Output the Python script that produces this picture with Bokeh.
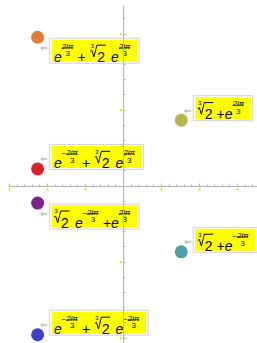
import re
import numpy as np
from bokeh.plotting import figure
from bokeh.models import FixedTicker, Range1d, ColumnDataSource
from bokeh.core.properties import value, field
from bokeh.embed import file_html
from bokeh.resources import INLINE

# ---------------- data ----------------
labels = [
    "e^(2iπ/3) + ∛2 e^(2iπ/3)",
    "∛2 + e^(2iπ/3)",
    "e^(-2iπ/3) + ∛2 e^(2iπ/3)",
    "∛2 e^(-2iπ/3) + e^(2iπ/3)",
    "∛2 + e^(-2iπ/3)",
    "e^(-2iπ/3) + ∛2 e^(-2iπ/3)",
]
re_part = [-1.13, 0.76, -1.13, -1.13, 0.76, -1.13]
im_part = [1.957, 0.866, 0.225, -0.225, -0.866, -1.957]
colors = ["#E07C3C", "#B9B44B", "#DB2427", "#7D238B", "#50A0AA", "#3C41C8"]
label_side = ["below", "above", "above", "below", "above", "above"]
x_major = [-1.5, -1.0, -0.5, 0.5, 1.0, 1.5]
y_major = [-2.0, -1.0, 1.0, 2.0]
x_minor = [round(v, 2) for v in np.arange(-1.5, 1.75, 0.1)]
y_minor = [round(v, 2) for v in np.arange(-2.0, 2.4, 0.2)]

# ---------------- figure ----------------
ML, MT = 8, 5
W, H = 257, 343
PW, PH = W - ML, H - MT
X0, X1 = -1.513, 1.763
Y1 = 2.375
Y0 = Y1 - PH * (X1 - X0) / PW
kx = PW / (X1 - X0)
ky = PH / (Y1 - Y0)

p = figure(width=W, height=H, x_range=Range1d(X0, X1), y_range=Range1d(Y0, Y1),
           output_backend="svg", toolbar_location=None, min_border=0,
           outline_line_color=None, background_fill_color="white",
           border_fill_color="white")
p.min_border_left = ML
p.min_border_top = MT
p.grid.visible = False

AX = "#b4b4b4"
for ax, maj, mnr in ((p.xaxis, x_major, x_minor), (p.yaxis, y_major, y_minor)):
    ax.fixed_location = 0
    ax.ticker = FixedTicker(ticks=maj, minor_ticks=mnr)
    ax.axis_line_color = AX
    ax.major_tick_line_color = AX
    ax.minor_tick_line_color = AX
    ax.major_tick_in = 3
    ax.major_tick_out = 0
    ax.minor_tick_in = 2
    ax.minor_tick_out = 0
    ax.major_label_text_color = None

# little yellow tick-label marks
p.rect(x=x_major, y=[-3.6 / ky] * len(x_major), width=2, height=2,
       width_units="screen", height_units="screen", fill_color="#e8e400",
       line_color=None)
p.rect(x=[-2.6 / kx] * len(y_major), y=y_major, width=2, height=2,
       width_units="screen", height_units="screen", fill_color="#e8e400",
       line_color=None)

# ---------------- label layout (px offsets) ----------------
FS, SFS, IFS = 14, 8, 6
W_E, W_PLUS, W_DIG, W_MIN, FW, ROOT_W = 7.5, 8.2, 7.8, 4.5, 12.0, 7.0
BASE, NUMB, BAR, DENB = 17.0, 6.7, 8.0, 14.2
PADL, PADR, BH = 2.5, 6.5, 22.0
MH, MV = 2.0, 1.5

T = dict(x=[], y=[], text=[], size=[], style=[], align=[])
lines_x, lines_y, lines_w = [], [], []
qy = dict(l=[], r=[], t=[], b=[])
oq = dict(l=[], r=[], t=[], b=[])
conn = dict(x=[], y=[])

for i, s in enumerate(labels):
    cx, cy = re_part[i], im_part[i]
    items, segs = [], []
    x = PADL
    toks = s.split(" ")
    prev = None
    for k, tok in enumerate(toks):
        if tok == "+":
            x += 4
            items.append((x, BASE, "+", FS, "normal", "left"))
            x += W_PLUS
            if toks[k + 1].startswith("∛"):
                x += 4.5
        else:
            if prev is not None and prev != "+":
                x += 6
            if tok.startswith("∛"):
                items.append((x + 0.4, 5.8, "3", IFS, "normal", "left"))
                segs.append(([x, x + 1.6, x + 3.6, x + 6.6, x + ROOT_W + W_DIG + 0.6],
                             [11.5, 10.6, 17.2, 5.4, 5.4], 1.0))
                x += ROOT_W
                items.append((x, BASE, tok[1:], FS, "normal", "left"))
                x += W_DIG
            else:
                m = re.match(r"e\^\((-?)(.+)/(.+)\)", tok)
                items.append((x, BASE, "e", FS, "italic", "left"))
                x += W_E
                if m.group(1):
                    items.append((x, NUMB + 0.8, "−", SFS, "normal", "left"))
                    x += W_MIN
                items.append((x + FW / 2, NUMB, m.group(2), SFS, "italic", "center"))
                items.append((x + FW / 2, DENB, m.group(3), SFS, "normal", "center"))
                segs.append(([x + 0.5, x + FW - 0.5], [BAR, BAR], 0.8))
                x += FW
        prev = tok
    bw = x + PADR
    ox = 12.0
    if label_side[i] == "above":
        otop = 0.5 - (BH + 2 * MV)
    else:
        otop = 1.0
    yl, yt = ox + MH, otop + MV

    def X(dx):
        return cx + dx / kx

    def Y(dy):
        return cy - dy / ky

    oq["l"].append(X(ox)); oq["r"].append(X(ox + bw + 2 * MH))
    oq["t"].append(Y(otop)); oq["b"].append(Y(otop + BH + 2 * MV))
    qy["l"].append(X(yl)); qy["r"].append(X(yl + bw))
    qy["t"].append(Y(yt)); qy["b"].append(Y(yt + BH))
    for (dx, dy, txt, fs, st, al) in items:
        T["x"].append(X(yl + dx)); T["y"].append(Y(yt + dy))
        T["text"].append(txt); T["size"].append(f"{fs}px")
        T["style"].append(st); T["align"].append(al)
    for xs, ys, lw in segs:
        lines_x.append([X(yl + v) for v in xs])
        lines_y.append([Y(yt + v) for v in ys])
        lines_w.append(lw)
    cyoff = otop + BH + 2 * MV - 10 if label_side[i] == "above" else otop + 10
    conn["x"].append(X(ox - 5.5)); conn["y"].append(Y(cyoff))

p.quad(left=oq["l"], right=oq["r"], top=oq["t"], bottom=oq["b"],
       fill_color="white", line_color="#d2d2d2", line_width=1)
p.quad(left=qy["l"], right=qy["r"], top=qy["t"], bottom=qy["b"],
       fill_color="#ffff00", line_color=None)
p.text(x="x", y="y", text="text", source=ColumnDataSource(T),
       text_font=value("Liberation Sans"), text_font_size=field("size"),
       text_font_style=field("style"), text_align=field("align"),
       text_baseline="alphabetic", text_color="black")
p.multi_line(xs=lines_x, ys=lines_y, line_color="black",
             line_width=lines_w)
p.text(x=conn["x"], y=conn["y"], text=["⇐"] * len(labels),
       text_font=value("DejaVu Sans"), text_font_size="9px",
       text_align="center", text_baseline="middle", text_color="#a8a8a8")

p.scatter(re_part, im_part, size=13, fill_color=colors, line_color=None)

open("out.html", "w").write(file_html(p, INLINE))
